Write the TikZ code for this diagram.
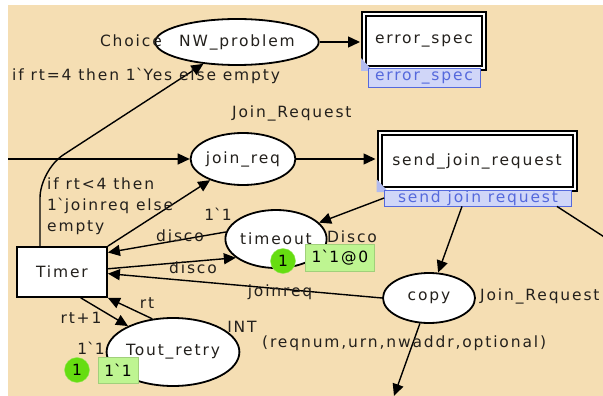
\documentclass[tikz,border=0pt]{standalone}
\usepackage{fontspec}
\newfontfamily\cpnfont{DejaVu Sans}[LetterSpace=12]
\usetikzlibrary{arrows.meta}
\usetikzlibrary{shapes.geometric}
\usetikzlibrary{calc}
\definecolor{cpnbg}{RGB}{245,222,179}
\definecolor{cpntext}{RGB}{35,32,28}
\definecolor{cpngreen}{RGB}{102,221,17}
\definecolor{cpnmark}{RGB}{190,245,145}
\definecolor{cpnblue}{RGB}{85,105,220}
\definecolor{cpnbluefill}{RGB}{208,214,248}
\newcommand{\bq}{\textasciigrave}
\tikzset{
    place/.style={ellipse, draw, line width=1.8pt, fill=white, inner sep=0pt, text=cpntext},
    subst/.style={draw, line width=2pt, double=white, double distance=2pt, fill=white, inner sep=0pt, text=cpntext},
    trans/.style={draw, line width=1.8pt, fill=white, inner sep=0pt, text=cpntext},
    taglabel/.style={draw=cpnblue, fill=cpnbluefill, text=cpnblue, inner sep=0pt, line width=0.8pt},
    arc/.style={line width=1.4pt, -{Triangle[length=12pt,width=11pt]}},
    insc/.style={text=cpntext, inner sep=0pt},
    token/.style={circle, fill=cpngreen, draw=cpngreen!70!white, inner sep=0pt, minimum size=25pt},
    marking/.style={fill=cpnmark, draw=cpnmark!85!black, inner sep=0pt}
}

\begin{document}
\begin{tikzpicture}[x=1pt, y=-1pt, every node/.style={font=\cpnfont\fontsize{15.5}{18}\selectfont}]
\useasboundingbox (0,0) rectangle (603,396);
\fill[cpnbg] (8,5) rectangle (603,396);
% places and transitions
\node[place, minimum width=138, minimum height=46] (nwp) at (237,42) {NW\_problem};
\node[subst, minimum width=120, minimum height=54] (errspec) at (424,41) {error\_spec};
\node[place, minimum width=94, minimum height=52] (joinreq) at (243,159) {join\_req};
\node[subst, minimum width=195, minimum height=56] (sjr) at (477,161) {send\_join\_request};
\node[place, minimum width=92, minimum height=58] (timeout) at (276,239) {timeout};
\node[trans, minimum width=90, minimum height=50] (timer) at (62,272) {Timer};
\node[place, minimum width=120, minimum height=68] (tout) at (173,352) {Tout\_retry};
\node[place, minimum width=92, minimum height=50] (copy) at (429,298) {copy};
\fill[cpnblue!45] ($(errspec.south west)+(-2,-11)$) -- ++(0,13) -- ++(12,0) -- cycle;
\fill[cpnblue!45] ($(sjr.south west)+(-2,-11)$) -- ++(0,13) -- ++(12,0) -- cycle;
\node[taglabel, minimum width=112, minimum height=19] (errlab) at (424,78) {error\_spec};
\node[taglabel, minimum width=187, minimum height=16] (sjrlab) at (478,198) {send join request};
\coordinate (inleft) at (8,159);
\coordinate (bendA) at (40,170);
\coordinate (outright) at (612,242);
\coordinate (outdown) at (394,396);
% arcs
\draw[arc, rounded corners=28pt] (timer.north -| bendA) -- (bendA) -- (nwp);
\draw[arc, shorten >=3pt] (nwp.east) -- (nwp.east -| errspec.west);
\draw[arc] (inleft) -- (joinreq);
\draw[arc] (timer.north east) -- (joinreq);
\draw[arc, shorten >=3pt] (joinreq.east) -- (joinreq.east -| sjr.west);
\draw[arc] (sjrlab.west) -- (timeout);
\draw[arc] ($(sjrlab.south)+(-16,0)$) -- (copy);
\draw[line width=1.4pt] ($(sjrlab.south east)+(-15,0)$) -- (outright);
\draw[arc] (copy) -- (outdown);
\draw[arc] (timeout.172) -- (timer.23);
\draw[arc] (timer.4) -- (timeout.205);
\draw[arc] (copy.west) -- (timer.-2);
\draw[arc] (timer.-54) -- (tout.150);
\draw[arc] (tout.122) -- (timer.south east);
% inscriptions
\foreach \n/\x/\y/\a/\t in {lchoice/162/41/east/{Choice}, lyes/12/76/west/{if rt=4 then 1\bq Yes else empty}, ljoin/232/113/west/{Join\_Request}, lone/218/214/center/{1\bq 1}, ldiscoa/180/236/center/{disco}, ldiscob/193/268/center/{disco}, ldisco/327/237/west/{Disco}, ljoinreq/280/292/center/{joinreq}, lrtp/81/318/center/{rt+1}, lrt/147/303/center/{rt}, lint/242/327/center/{INT}, lonet/91/348/center/{1\bq 1}, ljr/480/296/west/{Join\_Request}, ltuple/262/343/west/{(reqnum,urn,nwaddr,optional)}}{
    \node[insc, anchor=\a] (\n) at (\x,\y) {\t};
}
\node[insc, anchor=north west, align=left, font=\cpnfont\fontsize{15.5}{21}\selectfont] (lif) at (47,178) {if rt<4 then\\1\bq joinreq else\\empty};
% tokens
\node[token] (toka) at (283,261) {1};
\node[marking, minimum width=69, minimum height=27] (marka) at (340,258) {1\bq 1@0};
\node[token] (tokb) at (77,370) {1};
\node[marking, minimum width=40, minimum height=26] (markb) at (118,370) {1\bq 1};
\end{tikzpicture}
\end{document}
